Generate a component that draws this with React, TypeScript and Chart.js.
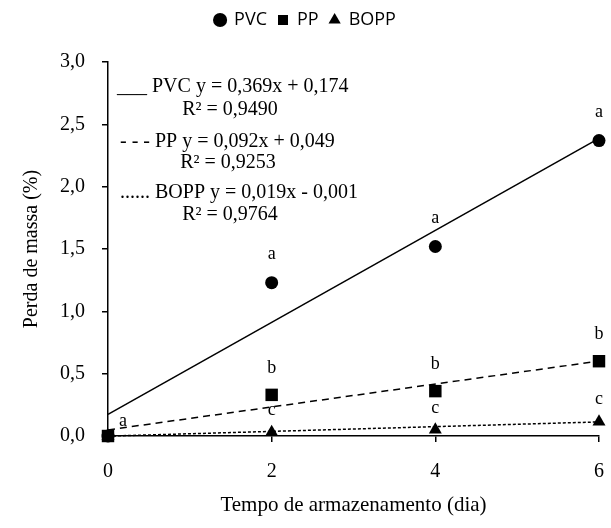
import { useEffect, useRef } from 'react';
import { Chart, registerables } from 'chart.js';

Chart.register(...registerables);

// ---- data ----
const days = [0, 2, 4, 6];
const pvcValues = [0, 1.23, 1.52, 2.37];
const ppValues = [0, 0.33, 0.36, 0.6];
const boppValues = [0, 0.03, 0.05, 0.115];

const trendDays = [0, 6];
const pvcTrend = [0.174, 2.388];
const ppTrend = [0.049, 0.601];
const boppTrend = [-0.001, 0.113];

const seriesNames = ['PVC', 'PP', 'BOPP'];
const pvcLetters = ['a', 'a', 'a', 'a'];
const ppLetters = ['', 'b', 'b', 'b'];
const boppLetters = ['', 'c', 'c', 'c'];

const equationLines = [
  '___ PVC y = 0,369x + 0,174',
  'R² = 0,9490',
  '- - - PP y = 0,092x + 0,049',
  'R² = 0,9253',
  '...... BOPP y = 0,019x - 0,001',
  'R² = 0,9764',
];

const xTitle = 'Tempo de armazenamento (dia)';
const yTitle = 'Perda de massa (%)';

const SERIF = "'Liberation Serif', 'Times New Roman', serif";

const toPoints = (xs: number[], ys: number[]) => xs.map((x, i) => ({ x, y: ys[i] }));

const legendSpacer = {
  id: 'legendSpacer',
  beforeInit(chart: any) {
    const legend = chart.legend;
    if (!legend) return;
    const orig = legend.fit;
    legend.fit = function () {
      orig.call(this);
      this.height = 62;
    };
  },
};

const annotations = {
  id: 'annotations',
  afterDatasetsDraw(chart: any) {
    const { ctx, chartArea } = chart;
    ctx.save();
    ctx.fillStyle = '#000';
    ctx.font = `18px ${SERIF}`;
    ctx.textBaseline = 'middle';
    ctx.textAlign = 'center';
    const letterSets = [pvcLetters, ppLetters, boppLetters];
    const offsets = [28, 27, 22];
    letterSets.forEach((letters, i) => {
      const meta = chart.getDatasetMeta(i);
      meta.data.forEach((pt: any, j: number) => {
        const l = letters[j];
        if (!l) return;
        if (j === 0) ctx.fillText(l, pt.x + 15, pt.y - 15);
        else ctx.fillText(l, pt.x, pt.y - offsets[i]);
      });
    });
    ctx.font = `20px ${SERIF}`;
    const layout = [
      [9, 25, 'left'],
      [122, 48, 'center'],
      [12, 80, 'left'],
      [120, 101, 'center'],
      [12, 131, 'left'],
      [122, 153, 'center'],
    ];
    equationLines.forEach((t, i) => {
      const [dx, dy, al] = layout[i] as [number, number, CanvasTextAlign];
      ctx.textAlign = al;
      ctx.fillText(t, chartArea.left + dx, chartArea.top + dy);
    });
    ctx.restore();
  },
};

export default function App() {
  const ref = useRef<HTMLCanvasElement | null>(null);

  useEffect(() => {
    if (!ref.current) return;
    const pointBase = {
      showLine: false,
      backgroundColor: '#000',
      borderColor: '#000',
      borderWidth: 0,
      clip: false as const,
    };
    const lineBase = {
      showLine: true,
      pointRadius: 0,
      pointHoverRadius: 0,
      borderColor: '#000',
      borderWidth: 1.5,
      fill: false,
      clip: false as const,
    };
    const chart = new Chart(ref.current, {
      type: 'scatter',
      data: {
        datasets: [
          { ...pointBase, label: seriesNames[0], data: toPoints(days, pvcValues), pointStyle: 'circle', pointRadius: 6.5, order: 1 },
          { ...pointBase, label: seriesNames[1], data: toPoints(days, ppValues), pointStyle: 'rect', pointRadius: 8.8, order: 0 },
          { ...pointBase, label: seriesNames[2], data: toPoints(days, boppValues), pointStyle: 'triangle', pointRadius: 7.5, order: 2 },
          { ...lineBase, label: 'PVC trend', data: toPoints(trendDays, pvcTrend), order: 3 },
          { ...lineBase, label: 'PP trend', data: toPoints(trendDays, ppTrend), borderDash: [7, 5], order: 4 },
          { ...lineBase, label: 'BOPP trend', data: toPoints(trendDays, boppTrend), borderDash: [3, 2], order: 5 },
        ],
      },
      options: {
        responsive: false,
        animation: false,
        devicePixelRatio: 1,
        color: '#000',
        layout: { padding: 0 },
        plugins: {
          tooltip: { enabled: false },
          legend: {
            display: true,
            position: 'top',
            labels: {
              usePointStyle: true,
              boxHeight: 10,
              boxWidth: 10,
              padding: 11,
              color: '#000',
              font: { family: "'Open Sans', sans-serif", size: 18 },
              filter: (item: any) => item.datasetIndex < 3,
              sort: (a: any, b: any) => a.datasetIndex - b.datasetIndex,
            },
          },
        },
        scales: {
          x: {
            type: 'linear',
            min: 0,
            max: 6,
            afterFit: (scale: any) => {
              scale.height = 92;
              scale.paddingRight = 12;
            },
            ticks: {
              stepSize: 2,
              color: '#000',
              padding: 18,
              font: { family: SERIF, size: 20 },
            },
            grid: { drawOnChartArea: false, drawTicks: true, tickLength: 6, color: '#000', lineWidth: 1.5 },
            border: { display: true, color: '#000', width: 1.5 },
            title: {
              display: true,
              text: xTitle,
              color: '#000',
              font: { family: SERIF, size: 21 },
              padding: { top: 0, bottom: 10 },
            },
          },
          y: {
            type: 'linear',
            min: 0,
            max: 3,
            afterFit: (scale: any) => {
              scale.width = 108;
            },
            ticks: {
              stepSize: 0.5,
              color: '#000',
              padding: 17,
              font: { family: SERIF, size: 20 },
              callback: (v: any) => Number(v).toFixed(1).replace('.', ','),
            },
            grid: { drawOnChartArea: false, drawTicks: true, tickLength: 6, color: '#000', lineWidth: 1.5 },
            border: { display: true, color: '#000', width: 1.5 },
            title: {
              display: true,
              text: yTitle,
              color: '#000',
              font: { family: SERIF, size: 20 },
              padding: { top: 20, bottom: 0 },
            },
          },
        },
      },
      plugins: [legendSpacer, annotations],
    } as any);
    return () => chart.destroy();
  }, []);

  return (
    <div style={{ position: 'fixed', left: 0, top: 0, width: 611, height: 528, background: '#fff' }}>
      <canvas ref={ref} width={611} height={528} style={{ display: 'block' }} />
    </div>
  );
}
